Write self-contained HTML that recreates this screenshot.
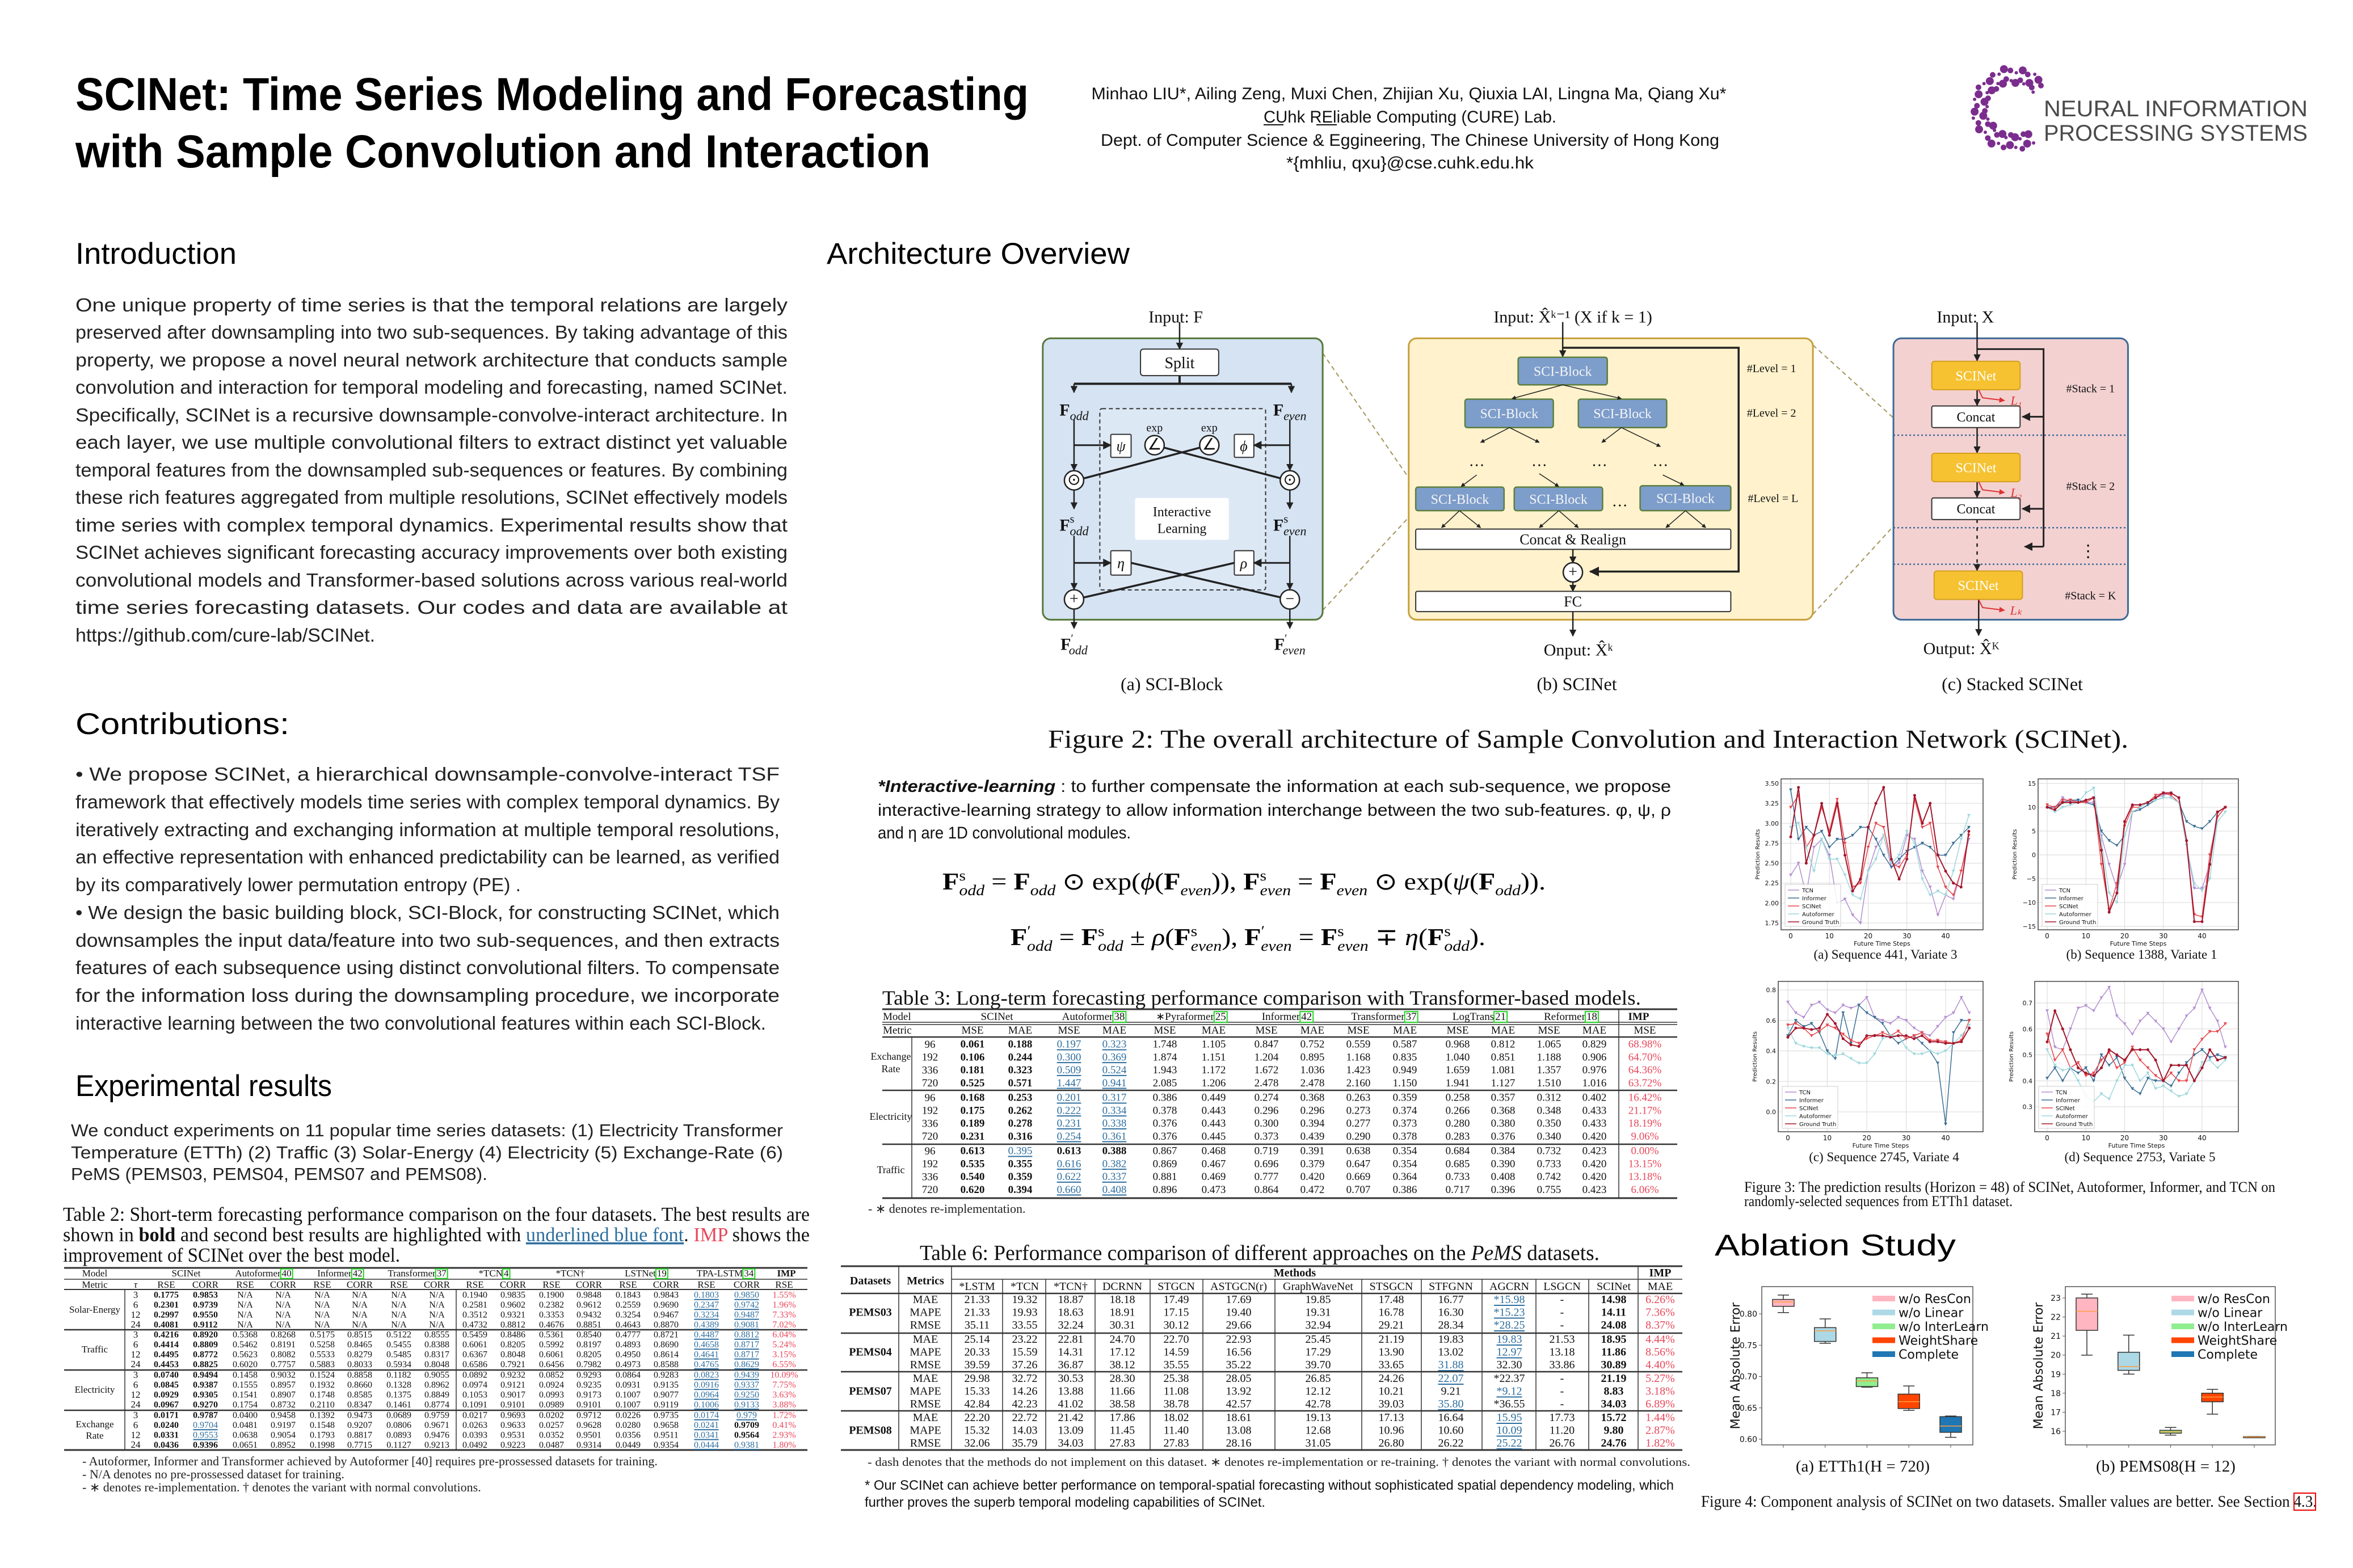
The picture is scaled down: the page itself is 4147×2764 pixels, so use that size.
<!DOCTYPE html>
<html><head><meta charset="utf-8"><title>SCINet Poster</title>
<style>
html,body{margin:0;padding:0;background:#fff}
svg{display:block}
.sans{font-family:"Liberation Sans",sans-serif}
.serif{font-family:"Liberation Serif",serif}
</style></head>
<body>
<svg id="page" xmlns="http://www.w3.org/2000/svg" width="4147" height="2764" viewBox="0 0 4147 2764">
<defs>
<marker id="arr" viewBox="0 0 10 10" refX="9" refY="5" markerWidth="5" markerHeight="5" orient="auto"><path d="M0,0 L10,5 L0,10 z" fill="#222"/></marker>
<marker id="arrR" viewBox="0 0 10 10" refX="9" refY="5" markerWidth="5" markerHeight="5" orient="auto"><path d="M0,0 L10,5 L0,10 z" fill="#d33"/></marker>
</defs>
<rect width="4147" height="2764" fill="#fff"/>

<!-- Title -->
<g class="sans" font-weight="bold" fill="#000">
<text x="133" y="194" font-size="82" textLength="1680" lengthAdjust="spacingAndGlyphs">SCINet: Time Series Modeling and Forecasting</text>
<text x="133" y="295" font-size="82" textLength="1507" lengthAdjust="spacingAndGlyphs">with Sample Convolution and Interaction</text>
</g>

<!-- Authors -->
<g class="sans" font-size="30" fill="#111" text-anchor="middle">
<text x="2483" y="175" textLength="1119" lengthAdjust="spacingAndGlyphs">Minhao LIU*, Ailing Zeng, Muxi Chen, Zhijian Xu, Qiuxia LAI, Lingna Ma, Qiang Xu*</text>
<text x="2485" y="216" textLength="516" lengthAdjust="spacingAndGlyphs">CUhk REliable Computing (CURE) Lab.</text>
<text x="2485" y="257" textLength="1090" lengthAdjust="spacingAndGlyphs">Dept. of Computer Science &amp; Eggineering, The Chinese University of Hong Kong</text>
<text x="2485" y="297" textLength="436" lengthAdjust="spacingAndGlyphs">*{mhliu, qxu}@cse.cuhk.edu.hk</text>
</g>
<line x1="2227" y1="220" x2="2262" y2="220" stroke="#111" stroke-width="2"/>
<line x1="2320" y1="220" x2="2356" y2="220" stroke="#111" stroke-width="2"/>

<!-- Logo -->
<g id="logo">
<text x="3602" y="205" class="sans" font-size="40" fill="#4a4a4a" textLength="465" lengthAdjust="spacingAndGlyphs">NEURAL INFORMATION</text>
<text x="3602" y="248" class="sans" font-size="40" fill="#4a4a4a" textLength="465" lengthAdjust="spacingAndGlyphs">PROCESSING SYSTEMS</text>
</g>

<!-- Section headings -->
<g class="sans" font-size="53" fill="#000">
<text x="133" y="465" textLength="284" lengthAdjust="spacingAndGlyphs">Introduction</text>
<text x="133" y="1294" textLength="377" lengthAdjust="spacingAndGlyphs">Contributions:</text>
<text x="133" y="1932" textLength="452" lengthAdjust="spacingAndGlyphs">Experimental results</text>
<text x="1457" y="465" textLength="534" lengthAdjust="spacingAndGlyphs">Architecture Overview</text>
<text x="3022" y="2213" textLength="425" lengthAdjust="spacingAndGlyphs">Ablation Study</text>
</g>

<!-- Introduction paragraph -->
<g class="sans" font-size="33" fill="#222">
<text x="133" y="549" textLength="1255" lengthAdjust="spacingAndGlyphs">One unique property of time series is that the temporal relations are largely</text>
<text x="133" y="597" textLength="1255" lengthAdjust="spacingAndGlyphs">preserved after downsampling into two sub-sequences. By taking advantage of this</text>
<text x="133" y="646" textLength="1255" lengthAdjust="spacingAndGlyphs">property, we propose a novel neural network architecture that conducts sample</text>
<text x="133" y="694" textLength="1255" lengthAdjust="spacingAndGlyphs">convolution and interaction for temporal modeling and forecasting, named SCINet.</text>
<text x="133" y="743" textLength="1255" lengthAdjust="spacingAndGlyphs">Specifically, SCINet is a recursive downsample-convolve-interact architecture. In</text>
<text x="133" y="791" textLength="1255" lengthAdjust="spacingAndGlyphs">each layer, we use multiple convolutional filters to extract distinct yet valuable</text>
<text x="133" y="840" textLength="1255" lengthAdjust="spacingAndGlyphs">temporal features from the downsampled sub-sequences or features. By combining</text>
<text x="133" y="888" textLength="1255" lengthAdjust="spacingAndGlyphs">these rich features aggregated from multiple resolutions, SCINet effectively models</text>
<text x="133" y="937" textLength="1255" lengthAdjust="spacingAndGlyphs">time series with complex temporal dynamics. Experimental results show that</text>
<text x="133" y="985" textLength="1255" lengthAdjust="spacingAndGlyphs">SCINet achieves significant forecasting accuracy improvements over both existing</text>
<text x="133" y="1034" textLength="1255" lengthAdjust="spacingAndGlyphs">convolutional models and Transformer-based solutions across various real-world</text>
<text x="133" y="1082" textLength="1255" lengthAdjust="spacingAndGlyphs">time series forecasting datasets. Our codes and data are available at</text>
<text x="133" y="1131" textLength="528" lengthAdjust="spacingAndGlyphs">https://github.com/cure-lab/SCINet.</text>
</g>

<!-- Contributions -->
<g class="sans" font-size="33" fill="#222">
<text x="133" y="1376" textLength="1241" lengthAdjust="spacingAndGlyphs">• We propose SCINet, a hierarchical downsample-convolve-interact TSF</text>
<text x="133" y="1425" textLength="1241" lengthAdjust="spacingAndGlyphs">framework that effectively models time series with complex temporal dynamics. By</text>
<text x="133" y="1474" textLength="1241" lengthAdjust="spacingAndGlyphs">iteratively extracting and exchanging information at multiple temporal resolutions,</text>
<text x="133" y="1522" textLength="1241" lengthAdjust="spacingAndGlyphs">an effective representation with enhanced predictability can be learned, as verified</text>
<text x="133" y="1571" textLength="785" lengthAdjust="spacingAndGlyphs">by its comparatively lower permutation entropy (PE) .</text>
<text x="133" y="1620" textLength="1241" lengthAdjust="spacingAndGlyphs">• We design the basic building block, SCI-Block, for constructing SCINet, which</text>
<text x="133" y="1669" textLength="1241" lengthAdjust="spacingAndGlyphs">downsamples the input data/feature into two sub-sequences, and then extracts</text>
<text x="133" y="1717" textLength="1241" lengthAdjust="spacingAndGlyphs">features of each subsequence using distinct convolutional filters. To compensate</text>
<text x="133" y="1766" textLength="1241" lengthAdjust="spacingAndGlyphs">for the information loss during the downsampling procedure, we incorporate</text>
<text x="133" y="1815" textLength="1217" lengthAdjust="spacingAndGlyphs">interactive learning between the two convolutional features within each SCI-Block.</text>
</g>

<!-- Experimental results text -->
<g class="sans" font-size="31" fill="#222">
<text x="125" y="2003" textLength="1255" lengthAdjust="spacingAndGlyphs">We conduct experiments on 11 popular time series datasets: (1) Electricity Transformer</text>
<text x="125" y="2042" textLength="1255" lengthAdjust="spacingAndGlyphs">Temperature  (ETTh) (2) Traffic (3) Solar-Energy (4) Electricity (5) Exchange-Rate (6)</text>
<text x="125" y="2080" textLength="734" lengthAdjust="spacingAndGlyphs">PeMS (PEMS03, PEMS04, PEMS07 and PEMS08).</text>
</g>

<!-- Table 2 caption -->
<g class="serif" font-size="35" fill="#111">
<text x="111" y="2152" textLength="1316" lengthAdjust="spacingAndGlyphs">Table 2: Short-term forecasting performance comparison on the four datasets. The best results are</text>
<text x="111" y="2188" textLength="1316" lengthAdjust="spacingAndGlyphs">shown in <tspan font-weight="bold">bold</tspan> and second best results are highlighted with <tspan fill="#2e6e9e" text-decoration="underline">underlined blue font</tspan>. <tspan fill="#e8475a">IMP</tspan> shows the</text>
<text x="111" y="2224" textLength="594" lengthAdjust="spacingAndGlyphs">improvement of SCINet over the best model.</text>
</g>
<g id="table2" class="serif"></g>
<g class="serif" font-size="22" fill="#222">
<text x="145" y="2583">- Autoformer, Informer and Transformer achieved by Autoformer [40] requires pre-prossessed datasets for training.</text>
<text x="145" y="2606">- N/A denotes no pre-prossessed dataset for training.</text>
<text x="145" y="2629">- ∗ denotes re-implementation.        † denotes the variant with normal convolutions.</text>
</g>

<!-- Architecture diagram -->
<g id="arch"></g>
<text x="1847" y="1318" class="serif" font-size="46" fill="#111" textLength="1904" lengthAdjust="spacingAndGlyphs">Figure 2: The overall architecture of Sample Convolution and Interaction Network (SCINet).</text>

<!-- Interactive learning text -->
<g class="sans" font-size="30" fill="#111">
<text x="1547" y="1396" textLength="1398" lengthAdjust="spacingAndGlyphs"><tspan font-weight="bold" font-style="italic">*Interactive-learning</tspan> :  to further compensate the information at each sub-sequence, we propose</text>
<text x="1547" y="1438" textLength="1398" lengthAdjust="spacingAndGlyphs">interactive-learning strategy to allow information interchange between the two sub-features. φ, ψ, ρ</text>
<text x="1547" y="1478" textLength="446" lengthAdjust="spacingAndGlyphs">and η are 1D convolutional modules.</text>
</g>

<!-- Equations -->
<g class="serif" font-size="42" fill="#000">
<text x="1661" y="1568" textLength="1063" lengthAdjust="spacingAndGlyphs"><tspan font-weight="bold">F</tspan><tspan font-size="26" dy="-16">s</tspan><tspan font-size="26" font-style="italic" dy="26" dx="-10">odd</tspan><tspan dy="-10"> = </tspan><tspan font-weight="bold">F</tspan><tspan font-size="26" font-style="italic" dy="10">odd</tspan><tspan dy="-10"> ⊙ exp(</tspan><tspan font-style="italic">ϕ</tspan>(<tspan font-weight="bold">F</tspan><tspan font-size="26" font-style="italic" dy="10">even</tspan><tspan dy="-10">)),    </tspan><tspan font-weight="bold">F</tspan><tspan font-size="26" dy="-16">s</tspan><tspan font-size="26" font-style="italic" dy="26" dx="-10">even</tspan><tspan dy="-10"> = </tspan><tspan font-weight="bold">F</tspan><tspan font-size="26" font-style="italic" dy="10">even</tspan><tspan dy="-10"> ⊙ exp(</tspan><tspan font-style="italic">ψ</tspan>(<tspan font-weight="bold">F</tspan><tspan font-size="26" font-style="italic" dy="10">odd</tspan><tspan dy="-10">)).</tspan></text>
<text x="1781" y="1666" textLength="837" lengthAdjust="spacingAndGlyphs"><tspan font-weight="bold">F</tspan><tspan font-size="26" dy="-16">′</tspan><tspan font-size="26" font-style="italic" dy="26" dx="-6">odd</tspan><tspan dy="-10"> = </tspan><tspan font-weight="bold">F</tspan><tspan font-size="26" dy="-16">s</tspan><tspan font-size="26" font-style="italic" dy="26" dx="-10">odd</tspan><tspan dy="-10"> ± </tspan><tspan font-style="italic">ρ</tspan>(<tspan font-weight="bold">F</tspan><tspan font-size="26" dy="-16">s</tspan><tspan font-size="26" font-style="italic" dy="26" dx="-10">even</tspan><tspan dy="-10">),    </tspan><tspan font-weight="bold">F</tspan><tspan font-size="26" dy="-16">′</tspan><tspan font-size="26" font-style="italic" dy="26" dx="-6">even</tspan><tspan dy="-10"> = </tspan><tspan font-weight="bold">F</tspan><tspan font-size="26" dy="-16">s</tspan><tspan font-size="26" font-style="italic" dy="26" dx="-10">even</tspan><tspan dy="-10"> ∓ </tspan><tspan font-style="italic">η</tspan>(<tspan font-weight="bold">F</tspan><tspan font-size="26" dy="-16">s</tspan><tspan font-size="26" font-style="italic" dy="26" dx="-10">odd</tspan><tspan dy="-10">).</tspan></text>
</g>

<!-- Table 3 -->
<text x="1555" y="1771" class="serif" font-size="36" fill="#111" textLength="1337" lengthAdjust="spacingAndGlyphs">Table 3: Long-term forecasting performance comparison with Transformer-based models.</text>
<g id="table3" class="serif"></g>
<text x="1530" y="2138" class="serif" font-size="22" fill="#222">- ∗ denotes re-implementation.</text>

<!-- Table 6 -->
<text x="1621" y="2221" class="serif" font-size="38" fill="#111" textLength="1198" lengthAdjust="spacingAndGlyphs">Table 6: Performance comparison of different approaches on the <tspan font-style="italic">PeMS</tspan> datasets.</text>
<g id="table6" class="serif"></g>
<text x="1529" y="2584" class="serif" font-size="21" fill="#222" textLength="1450" lengthAdjust="spacingAndGlyphs">- dash denotes that the methods do not implement on this dataset.    ∗ denotes re-implementation or re-training.    † denotes the variant with normal convolutions.</text>
<text x="1524" y="2626" class="sans" font-size="24" fill="#111" textLength="1426" lengthAdjust="spacingAndGlyphs">* Our SCINet can achieve better performance on temporal-spatial forecasting without sophisticated spatial dependency modeling, which</text>
<text x="1524" y="2656" class="sans" font-size="24" fill="#111" textLength="706" lengthAdjust="spacingAndGlyphs">further proves the superb temporal modeling capabilities of SCINet.</text>

<!-- Figure 3 -->
<g id="fig3"></g>
<g class="serif" font-size="26" fill="#111">
<text x="3074" y="2101" textLength="936" lengthAdjust="spacingAndGlyphs">Figure 3: The prediction results (Horizon = 48) of SCINet, Autoformer, Informer, and TCN on</text>
<text x="3074" y="2126" textLength="473" lengthAdjust="spacingAndGlyphs">randomly-selected sequences from ETTh1 dataset.</text>
</g>

<!-- Figure 4 -->
<g id="fig4"></g>
<text x="2998" y="2656" class="serif" font-size="28" fill="#111" textLength="1085" lengthAdjust="spacingAndGlyphs">Figure 4: Component analysis of SCINet on two datasets. Smaller values are better. See Section 4.3.</text>
<rect x="4043" y="2632" width="38" height="30" fill="none" stroke="#e00" stroke-width="2"/>
</svg>

<script>
const NS='http://www.w3.org/2000/svg';
function mk(tag,parent,name,attrs,inter){
  const e=document.createElementNS(NS,tag);
  
  
  if(attrs){for(const k in attrs){e.setAttribute(k,attrs[k]);}}
  parent.appendChild(e);
  return e;
}
function tx(parent,name,x,y,str,size,o){
  o=o||{};
  const t=mk('text',parent,name,{x:x,y:y,'font-size':size,fill:o.fill||'#111','text-anchor':o.anchor||'middle'});
  if(o.weight)t.setAttribute('font-weight',o.weight);
  if(o.style)t.setAttribute('font-style',o.style);
  if(o.family)t.setAttribute('font-family',o.family);
  if(o.len){t.setAttribute('textLength',o.len);t.setAttribute('lengthAdjust','spacingAndGlyphs');}
  if(o.rotate)t.setAttribute('transform','rotate('+o.rotate+' '+x+' '+y+')');
  t.textContent=str;
  return t;
}

/* ---------------- Logo dots ---------------- */
(function(){
  const g=document.getElementById('logo');
  const cx=3548, cy=192;
  for(let i=0;i<30;i++){
    const a=(40+i*9)*Math.PI/180;
    for(let j=0;j<2;j++){
      const r=46+j*18+((i*7)%5)*2;
      const c=mk('circle',g,'logo-dot',{cx:cx+r*Math.cos(a),cy:cy-r*Math.sin(a),r:3+((i+j)%3)*2,fill:'#7b2d8e'});
    }
  }
})();

/* ---------------- Architecture diagram ---------------- */
(function(){
  const g=document.getElementById('arch');
  const DX=z=>1700+z*1.378, DY=z=>520+z*0.477;
  function R(name,x1,y1,x2,y2,fill,stroke,sw,rx,dash){
    const r=mk('rect',g,name,{x:DX(x1),y:DY(y1),width:DX(x2)-DX(x1),height:DY(y2)-DY(y1),fill:fill,stroke:stroke,'stroke-width':sw||2,rx:rx||4});
    if(dash)r.setAttribute('stroke-dasharray',dash);
    return r;
  }
  function L(name,pts,o){
    o=o||{};
    const p=mk('polyline',g,name,{points:pts.map(q=>DX(q[0])+','+DY(q[1])).join(' '),fill:'none',stroke:o.stroke||'#222','stroke-width':o.sw||2.5});
    if(o.arrow)p.setAttribute('marker-end',o.red?'url(#arrR)':'url(#arr)');
    if(o.dash)p.setAttribute('stroke-dasharray',o.dash);
    return p;
  }
  function T(name,zx,zy,str,size,o){o=o||{};o.family=o.family||'"Liberation Serif",serif';return tx(g,name,DX(zx),DY(zy)+size*0.35,str,size,o);}
  function C(name,zx,zy,sym){
    mk('circle',g,name,{cx:DX(zx),cy:DY(zy),r:17,fill:'#fff',stroke:'#222','stroke-width':2.5});
    T(name+'-symbol',zx,zy-4,sym,28);
  }
  function FL(name,zx,zy,main,sub,sup){
    const t=mk('text',g,name,{x:DX(zx),y:DY(zy)+10,'font-size':30,'text-anchor':'middle','font-family':'"Liberation Serif",serif',fill:'#111'});
    const a=mk('tspan',t,name+'-main',{'font-weight':'bold'});a.textContent=main;
    if(sup){const s=mk('tspan',t,name+'-sup',{'font-size':20,dy:-14});s.textContent=sup;}
    const b=mk('tspan',t,name+'-sub',{'font-size':22,'font-style':'italic',dy:sup?22:8,dx:sup?-8:0});b.textContent=sub;
  }
  L('zoom-connector',[[458,215],[575,705]],{stroke:'#a3955a',sw:2,dash:'8,6'});
  L('zoom-connector',[[458,1165],[575,800]],{stroke:'#a3955a',sw:2,dash:'8,6'});
  L('zoom-connector',[[1085,185],[1240,590]],{stroke:'#a3955a',sw:2,dash:'8,6'});
  L('zoom-connector',[[1085,1180],[1240,690]],{stroke:'#a3955a',sw:2,dash:'8,6'});

  R('sci-block-panel',100,160,458,1200,'#d5e3f2','#56783a',3,14);
  R('interactive-region',173,420,385,1090,'#dde8f5','#333',2,0,'7,5');
  T('input-f-label',270,80,'Input: F',30);
  L('input-arrow',[[275,100],[275,200]],{arrow:1});
  R('split-box',225,200,325,298,'#fff','#333',2,5);
  T('split-label',275,250,'Split',28);
  L('split-bar',[[275,298],[275,328]],{sw:4});
  L('split-bar',[[140,328],[418,328]],{sw:4});
  L('split-arrow',[[140,328],[140,360]],{arrow:1});
  L('split-arrow',[[418,328],[418,360]],{arrow:1});
  FL('f-odd-label',140,425,'F','odd');
  FL('f-even-label',416,425,'F','even');
  L('odd-path',[[140,460],[140,648]],{arrow:1});
  L('even-path',[[416,460],[416,648]],{arrow:1});
  R('psi-box',187,515,213,600,'#fff','#333',2,2);
  R('phi-box',345,515,370,600,'#fff','#333',2,2);
  T('psi-label',200,557,'ψ',26,{style:'italic'});
  T('phi-label',357,557,'ϕ',26,{style:'italic'});
  L('psi-in',[[140,555],[187,555]],{arrow:1,sw:3});
  L('phi-in',[[416,555],[370,555]],{arrow:1,sw:3});
  L('cross-top',[[243,555],[405,678]],{sw:3.5});
  L('cross-top',[[313,555],[152,678]],{sw:3.5});
  C('exp-circle-left',243,555,'∠');
  C('exp-circle-right',313,555,'∠');
  T('exp-label',243,490,'exp',20);
  T('exp-label',313,490,'exp',20);
  C('odot-left',140,685,'⊙');
  C('odot-right',416,685,'⊙');
  L('odd-path',[[140,722],[140,790]],{arrow:1});
  L('even-path',[[416,722],[416,790]],{arrow:1});
  R('interactive-learning-box',218,750,338,905,'#fff','none',0,0);
  T('interactive-label',278,800,'Interactive',24);
  T('learning-label',278,862,'Learning',24);
  FL('fs-odd-label',140,850,'F','odd','s');
  FL('fs-even-label',416,850,'F','even','s');
  L('odd-path',[[140,890],[140,1088]],{arrow:1});
  L('even-path',[[416,890],[416,1088]],{arrow:1});
  R('eta-box',187,945,213,1035,'#fff','#333',2,2);
  R('rho-box',345,945,370,1035,'#fff','#333',2,2);
  T('eta-label',200,990,'η',26,{style:'italic'});
  T('rho-label',357,990,'ρ',26,{style:'italic'});
  L('eta-in',[[140,990],[187,990]],{arrow:1,sw:3});
  L('rho-in',[[416,990],[370,990]],{arrow:1,sw:3});
  L('cross-bottom',[[213,990],[405,1118]],{sw:3.5});
  L('cross-bottom',[[345,990],[152,1118]],{sw:3.5});
  C('oplus-left',140,1125,'+');
  C('ominus-right',416,1125,'−');
  L('odd-out',[[140,1162],[140,1232]],{arrow:1});
  L('even-out',[[416,1162],[416,1232]],{arrow:1});
  FL('f-odd-prime-label',140,1290,'F','odd','′');
  FL('f-even-prime-label',416,1290,'F','even','′');
  T('caption-a',265,1437,'(a) SCI-Block',32);

  R('scinet-panel',568,160,1085,1200,'#fff2cc','#c6a03c',3,14);
  T('input-x-label',778,80,'Input: X̂ᵏ⁻¹ (X if k = 1)',30);
  L('input-arrow',[[765,100],[765,228]],{arrow:1});
  L('residual-path',[[765,195],[990,195],[990,1022],[800,1022]],{arrow:1,sw:3.5});
  const blocks=[[708,230,822,332],[640,385,753,490],[785,385,898,490],[577,710,690,797],[703,710,816,797],[864,705,980,797]];
  blocks.forEach(b=>{R('sci-block-node',b[0],b[1],b[2],b[3],'#7d9dcb','#5d7f3e',2.5,4);T('sci-block-node-label',(b[0]+b[2])/2,(b[1]+b[3])/2,'SCI-Block',24,{fill:'#f5f5f5'});});
  [[[765,332],[700,383]],[[765,332],[840,383]],[[697,490],[660,545]],[[697,490],[735,545]],[[840,490],[815,545]],[[840,490],[890,560]],[[655,665],[635,708]],[[735,660],[760,708]],[[893,665],[920,703]],[[633,797],[610,860]],[[633,797],[660,860]],[[760,797],[735,860]],[[760,797],[785,860]],[[922,797],[897,860]],[[922,797],[948,860]]].forEach(s=>L('tree-edge',s,{arrow:1,sw:1.5}));
  [655,735,812,890].forEach(x=>T('ellipsis',x,612,'…',28));
  T('ellipsis',838,760,'…',28);
  R('concat-realign-box',577,865,980,940,'#fff','#333',2,3);
  T('concat-realign-label',778,902,'Concat & Realign',26);
  L('to-sum',[[778,940],[778,990]],{arrow:1});
  C('sum-circle',778,1025,'+');
  L('to-fc',[[778,1060],[778,1095]],{arrow:1});
  R('fc-box',577,1095,980,1170,'#fff','#333',2,3);
  T('fc-label',778,1132,'FC',26);
  L('output-arrow',[[778,1170],[778,1260]],{arrow:1});
  T('output-label',785,1310,'Onput: X̂ᵏ',30);
  T('level-1-label',1032,270,'#Level = 1',20);
  T('level-2-label',1032,435,'#Level = 2',20);
  T('level-l-label',1034,750,'#Level = L',20);
  T('caption-b',783,1437,'(b) SCINet',32);

  R('stacked-panel',1188,160,1488,1200,'#f4d1d1','#3c6a98',3,14);
  T('input-x-label-c',1280,80,'Input: X',30);
  L('stack-main',[[1295,100],[1295,243]],{arrow:1});
  L('stack-skip',[[1295,200],[1380,200],[1380,930]],{sw:3});
  L('skip-arrow',[[1380,450],[1353,450]],{arrow:1,sw:3});
  L('skip-arrow',[[1380,790],[1353,790]],{arrow:1,sw:3});
  L('skip-arrow',[[1380,930],[1356,930]],{arrow:1,sw:3});
  [518,860,995].forEach(y=>L('stack-divider',[[1188,y],[1488,y]],{stroke:'#3c6a98',sw:2.5,dash:'3,4'}));
  L('stack-main',[[1295,350],[1295,408]],{arrow:1});
  L('stack-main',[[1295,490],[1295,583]],{arrow:1});
  L('stack-main',[[1295,690],[1295,748]],{arrow:1});
  L('stack-main',[[1295,830],[1295,1018]],{arrow:1,dash:'6,8'});
  L('stack-main',[[1297,1125],[1297,1258]],{arrow:1});
  [[1237,245,1350,350],[1237,585,1350,690],[1240,1020,1353,1125]].forEach(b=>{R('scinet-node',b[0],b[1],b[2],b[3],'#f6c232','#d4a020',2,5);T('scinet-node-label',(b[0]+b[2])/2,(b[1]+b[3])/2,'SCINet',24,{fill:'#fff'});});
  [[1237,410,1350,490],[1237,750,1350,830]].forEach(b=>{R('concat-node',b[0],b[1],b[2],b[3],'#fff','#333',2,3);T('concat-node-label',(b[0]+b[2])/2,(b[1]+b[3])/2,'Concat',24);});
  [[350,'L₁'],[690,'L₂'],[1125,'Lₖ']].forEach(s=>{L('loss-arrow',[[1297,s[0]],[1302,s[0]+30],[1330,s[0]+40]],{arrow:1,red:1,stroke:'#d33',sw:2});T('loss-label',1345,s[0]+40,s[1],22,{fill:'#d33',style:'italic'});});
  T('stack-dots',1437,945,'⋮',30);
  T('stack-1-label',1440,345,'#Stack = 1',20);
  T('stack-2-label',1440,705,'#Stack = 2',20);
  T('stack-k-label',1440,1110,'#Stack = K',20);
  T('output-label-c',1275,1305,'Output: X̂ᴷ',30);
  T('caption-c',1340,1437,'(c) Stacked SCINet',32);
})();

/* ---------------- Tables ---------------- */
function drawTable(g,rows,colX,rowY,size,impColor){
  rows.forEach((r,i)=>{
    r.forEach((v,j)=>{
      let s=v, bold=false, blue=false;
      while(s[0]==='!'||s[0]==='~'){ if(s[0]==='!')bold=true; else blue=true; s=s.slice(1);}
      const isImp=(j===r.length-1);
      const t=tx(g,'table-cell',colX[j],rowY[i]+size*0.35,s,size,{fill:isImp?impColor:(blue?'#2e6e9e':'#111'),weight:bold?'bold':null});
      if(blue){
        const w=s.length*size*0.45;
        const u=mk('line',g,'cell-underline',{x1:colX[j]-w/2,x2:colX[j]+w/2,y1:rowY[i]+size*0.55,y2:rowY[i]+size*0.55,stroke:'#2e6e9e','stroke-width':2});
      }
    });
  });
}
function hline(g,x1,x2,y,w){mk('line',g,'table-rule',{x1:x1,x2:x2,y1:y,y2:y,stroke:'#333','stroke-width':w});}
function vline(g,x,y1,y2,w){mk('line',g,'table-rule',{x1:x,x2:x,y1:y1,y2:y2,stroke:'#333','stroke-width':w||1.5});}
function refHeader(g,cx,y,name,ref,size){
  const t=tx(g,'column-header',cx,y,name+(ref?' ':''),size,{});
  if(ref){
    const w=t.getComputedTextLength();
    const rw=ref.length*size*0.5+4;
    t.setAttribute('x',cx-rw/2);
    const rx=cx-rw/2+w/2;
    const r=mk('rect',g,'citation-box',{x:rx,y:y-size*0.78,width:rw,height:size*1.0,fill:'none',stroke:'#1fd51f','stroke-width':2});
    tx(g,'citation-number',rx+rw/2,y,ref,size,{});
  }
}

/* Table 2 */
const t2Models=[['SCINet',''],['Autoformer','40'],['Informer','42'],['Transformer','37'],['*TCN','4'],['*TCN†',''],['LSTNet','19'],['TPA-LSTM','34']];
const t2Datasets=['Solar-Energy','Traffic','Electricity','Exchange Rate'];
const t2Horizons=['3','6','12','24'];
const t2Rows=[
['!0.1775','!0.9853','N/A','N/A','N/A','N/A','N/A','N/A','0.1940','0.9835','0.1900','0.9848','0.1843','0.9843','~0.1803','~0.9850','1.55%'],
['!0.2301','!0.9739','N/A','N/A','N/A','N/A','N/A','N/A','0.2581','0.9602','0.2382','0.9612','0.2559','0.9690','~0.2347','~0.9742','1.96%'],
['!0.2997','!0.9550','N/A','N/A','N/A','N/A','N/A','N/A','0.3512','0.9321','0.3353','0.9432','0.3254','0.9467','~0.3234','~0.9487','7.33%'],
['!0.4081','!0.9112','N/A','N/A','N/A','N/A','N/A','N/A','0.4732','0.8812','0.4676','0.8851','0.4643','0.8870','~0.4389','~0.9081','7.02%'],
['!0.4216','!0.8920','0.5368','0.8268','0.5175','0.8515','0.5122','0.8555','0.5459','0.8486','0.5361','0.8540','0.4777','0.8721','~0.4487','~0.8812','6.04%'],
['!0.4414','!0.8809','0.5462','0.8191','0.5258','0.8465','0.5455','0.8388','0.6061','0.8205','0.5992','0.8197','0.4893','0.8690','~0.4658','~0.8717','5.24%'],
['!0.4495','!0.8772','0.5623','0.8082','0.5533','0.8279','0.5485','0.8317','0.6367','0.8048','0.6061','0.8205','0.4950','0.8614','~0.4641','~0.8717','3.15%'],
['!0.4453','!0.8825','0.6020','0.7757','0.5883','0.8033','0.5934','0.8048','0.6586','0.7921','0.6456','0.7982','0.4973','0.8588','~0.4765','~0.8629','6.55%'],
['!0.0740','!0.9494','0.1458','0.9032','0.1524','0.8858','0.1182','0.9055','0.0892','0.9232','0.0852','0.9293','0.0864','0.9283','~0.0823','~0.9439','10.09%'],
['!0.0845','!0.9387','0.1555','0.8957','0.1932','0.8660','0.1328','0.8962','0.0974','0.9121','0.0924','0.9235','0.0931','0.9135','~0.0916','~0.9337','7.75%'],
['!0.0929','!0.9305','0.1541','0.8907','0.1748','0.8585','0.1375','0.8849','0.1053','0.9017','0.0993','0.9173','0.1007','0.9077','~0.0964','~0.9250','3.63%'],
['!0.0967','!0.9270','0.1754','0.8732','0.2110','0.8347','0.1461','0.8774','0.1091','0.9101','0.0989','0.9101','0.1007','0.9119','~0.1006','~0.9133','3.88%'],
['!0.0171','!0.9787','0.0400','0.9458','0.1392','0.9473','0.0689','0.9759','0.0217','0.9693','0.0202','0.9712','0.0226','0.9735','~0.0174','~0.979','1.72%'],
['!0.0240','~0.9704','0.0481','0.9197','0.1548','0.9207','0.0806','0.9671','0.0263','0.9633','0.0257','0.9628','0.0280','0.9658','~0.0241','!0.9709','0.41%'],
['!0.0331','~0.9553','0.0638','0.9054','0.1793','0.8817','0.0893','0.9476','0.0393','0.9531','0.0352','0.9501','0.0356','0.9511','~0.0341','!0.9564','2.93%'],
['!0.0436','!0.9396','0.0651','0.8952','0.1998','0.7715','0.1127','0.9213','0.0492','0.9223','0.0487','0.9314','0.0449','0.9354','~0.0444','~0.9381','1.80%']];
(function(){
  const g=document.getElementById('table2');
  const colX=[293,362,432,499,568,634,703,770,837,904,972,1038,1107,1174,1245,1316,1382];
  const rowY=[];[2282,2352,2423,2494].forEach(s=>{for(let k=0;k<4;k++)rowY.push(s+k*17.4);});
  hline(g,113,1423,2235,3);hline(g,113,1423,2255,1.5);hline(g,113,1423,2273,2);
  hline(g,113,1423,2344,2.5);hline(g,113,1423,2415,2.5);hline(g,113,1423,2486,2.5);hline(g,113,1423,2556,3);
  vline(g,220,2273,2556);vline(g,804,2273,2556);
  tx(g,'header-model',167,2250,'Model',17,{});
  const hx=[328,465,600,736,871,1005,1139,1279];
  t2Models.forEach((m,i)=>refHeader(g,hx[i],2250,m[0],m[1],17));
  tx(g,'header-imp',1386,2250,'IMP',17,{weight:'bold'});
  tx(g,'header-metric',167,2270,'Metric',17,{});
  tx(g,'header-tau',239,2270,'τ',17,{style:'italic'});
  colX.forEach((x,j)=>tx(g,'metric-label',x,2270,j===16?'RSE':(j%2?'CORR':'RSE'),17,{}));
  const gm=[2308,2378,2449,2520];
  t2Datasets.forEach((d,i)=>{
    if(d==='Exchange Rate'){tx(g,'dataset-label',167,gm[i]-4,'Exchange',17,{});tx(g,'dataset-label',167,gm[i]+16,'Rate',17,{});}
    else tx(g,'dataset-label',167,gm[i]+6,d,17,{});
  });
  rowY.forEach((y,i)=>tx(g,'horizon-label',239,y+6,t2Horizons[i%4],17,{}));
  drawTable(g,t2Rows,colX,rowY,16,'#e8475a');
})();

/* Table 3 */
const t3Models=[['SCINet',''],['Autoformer','38'],['∗Pyraformer','25'],['Informer','42'],['Transformer','37'],['LogTrans','21'],['Reformer','18']];
const t3Datasets=['Exchange Rate','Electricity','Traffic'];
const t3Horizons=['96','192','336','720'];
const t3Rows=[
['!0.061','!0.188','~0.197','~0.323','1.748','1.105','0.847','0.752','0.559','0.587','0.968','0.812','1.065','0.829','68.98%'],
['!0.106','!0.244','~0.300','~0.369','1.874','1.151','1.204','0.895','1.168','0.835','1.040','0.851','1.188','0.906','64.70%'],
['!0.181','!0.323','~0.509','~0.524','1.943','1.172','1.672','1.036','1.423','0.949','1.659','1.081','1.357','0.976','64.36%'],
['!0.525','!0.571','~1.447','~0.941','2.085','1.206','2.478','2.478','2.160','1.150','1.941','1.127','1.510','1.016','63.72%'],
['!0.168','!0.253','~0.201','~0.317','0.386','0.449','0.274','0.368','0.263','0.359','0.258','0.357','0.312','0.402','16.42%'],
['!0.175','!0.262','~0.222','~0.334','0.378','0.443','0.296','0.296','0.273','0.374','0.266','0.368','0.348','0.433','21.17%'],
['!0.189','!0.278','~0.231','~0.338','0.376','0.443','0.300','0.394','0.277','0.373','0.280','0.380','0.350','0.433','18.19%'],
['!0.231','!0.316','~0.254','~0.361','0.376','0.445','0.373','0.439','0.290','0.378','0.283','0.376','0.340','0.420','9.06%'],
['!0.613','~0.395','!0.613','!0.388','0.867','0.468','0.719','0.391','0.638','0.354','0.684','0.384','0.732','0.423','0.00%'],
['!0.535','!0.355','~0.616','~0.382','0.869','0.467','0.696','0.379','0.647','0.354','0.685','0.390','0.733','0.420','13.15%'],
['!0.540','!0.359','~0.622','~0.337','0.881','0.469','0.777','0.420','0.669','0.364','0.733','0.408','0.742','0.420','13.18%'],
['!0.620','!0.394','~0.660','~0.408','0.896','0.473','0.864','0.472','0.707','0.386','0.717','0.396','0.755','0.423','6.06%']];
(function(){
  const g=document.getElementById('table3');
  const colX=[1714,1798,1884,1964,2053,2139,2232,2313,2394,2476,2569,2649,2730,2810,2899];
  const rowY=[];[1840,1934,2028].forEach(s=>{for(let k=0;k<4;k++)rowY.push(s+k*22.7);});
  hline(g,1555,2956,1779,3);hline(g,1555,2956,1802,1.5);hline(g,1555,2956,1806,1.5);hline(g,1555,2956,1828,2.5);
  hline(g,1555,2956,1922,2.5);hline(g,1555,2956,2017,2.5);hline(g,1555,2956,2112,3);
  vline(g,1607,1828,2112);vline(g,2853,1779,2112);
  tx(g,'header-model',1556,1798,'Model',19,{anchor:'start'});
  const hx=[1757,1928,2100,2269,2440,2608,2769];
  t3Models.forEach((m,i)=>refHeader(g,hx[i],1798,m[0],m[1],19));
  tx(g,'header-imp',2888,1798,'IMP',19,{weight:'bold'});
  tx(g,'header-metric',1556,1822,'Metric',19,{anchor:'start'});
  colX.forEach((x,j)=>tx(g,'metric-label',x,1822,j===14?'MSE':(j%2?'MAE':'MSE'),19,{}));
  const gm=[1874,1968,2062];
  t3Datasets.forEach((d,i)=>{
    if(d==='Exchange Rate'){tx(g,'dataset-label',1570,gm[i]-6,'Exchange',18,{});tx(g,'dataset-label',1570,gm[i]+16,'Rate',18,{});}
    else tx(g,'dataset-label',1570,gm[i]+6,d,18,{});
  });
  rowY.forEach((y,i)=>tx(g,'horizon-label',1639,y+7,t3Horizons[i%4],19,{}));
  drawTable(g,t3Rows,colX,rowY,19,'#e8475a');
})();

/* Table 6 */
const t6Methods=['*LSTM','*TCN','*TCN†','DCRNN','STGCN','ASTGCN(r)','GraphWaveNet','STSGCN','STFGNN','AGCRN','LSGCN','SCINet'];
const t6Datasets=['PEMS03','PEMS04','PEMS07','PEMS08'];
const t6Metrics=['MAE','MAPE','RMSE'];
const t6Rows=[
['21.33','19.32','18.87','18.18','17.49','17.69','19.85','17.48','16.77','~*15.98','-','!14.98','6.26%'],
['21.33','19.93','18.63','18.91','17.15','19.40','19.31','16.78','16.30','~*15.23','-','!14.11','7.36%'],
['35.11','33.55','32.24','30.31','30.12','29.66','32.94','29.21','28.34','~*28.25','-','!24.08','8.37%'],
['25.14','23.22','22.81','24.70','22.70','22.93','25.45','21.19','19.83','~19.83','21.53','!18.95','4.44%'],
['20.33','15.59','14.31','17.12','14.59','16.56','17.29','13.90','13.02','~12.97','13.18','!11.86','8.56%'],
['39.59','37.26','36.87','38.12','35.55','35.22','39.70','33.65','~31.88','32.30','33.86','!30.89','4.40%'],
['29.98','32.72','30.53','28.30','25.38','28.05','26.85','24.26','~22.07','*22.37','-','!21.19','5.27%'],
['15.33','14.26','13.88','11.66','11.08','13.92','12.12','10.21','9.21','~*9.12','-','!8.83','3.18%'],
['42.84','42.23','41.02','38.58','38.78','42.57','42.78','39.03','~35.80','*36.55','-','!34.03','6.89%'],
['22.20','22.72','21.42','17.86','18.02','18.61','19.13','17.13','16.64','~15.95','17.73','!15.72','1.44%'],
['15.32','14.03','13.09','11.45','11.40','13.08','12.68','10.96','10.60','~10.09','11.20','!9.80','2.87%'],
['32.06','35.79','34.03','27.83','27.83','28.16','31.05','26.80','26.22','~25.22','26.76','!24.76','1.82%']];
(function(){
  const g=document.getElementById('table6');
  const colX=[1722,1806,1887,1978,2073,2183,2323,2452,2557,2660,2753,2844,2926];
  const rowY=[];[2290,2360,2429,2498].forEach(s=>{for(let k=0;k<3;k++)rowY.push(s+k*22.5);});
  hline(g,1482,2965,2232,3);hline(g,1677,2965,2255,1.5);hline(g,1482,2965,2280,2.5);
  hline(g,1482,2965,2350,2.5);hline(g,1482,2965,2418,2.5);hline(g,1482,2965,2487,2.5);hline(g,1482,2965,2556,3);
  vline(g,1584,2232,2556);vline(g,1677,2232,2556);vline(g,2887,2232,2556);
  [1767,1843,1930,2027,2120,2247,2400,2505,2612,2707,2800].forEach(x=>vline(g,x,2255,2556));
  tx(g,'header-datasets',1534,2264,'Datasets',20,{weight:'bold'});
  tx(g,'header-metrics',1631,2264,'Metrics',20,{weight:'bold'});
  tx(g,'header-methods',2282,2250,'Methods',20,{weight:'bold'});
  tx(g,'header-imp',2926,2250,'IMP',20,{weight:'bold'});
  t6Methods.forEach((m,j)=>tx(g,'method-header',colX[j],2274,m,20,{}));
  tx(g,'imp-metric',2926,2274,'MAE',20,{});
  t6Datasets.forEach((d,i)=>tx(g,'dataset-label',1534,rowY[i*3+1]+7,d,20,{weight:'bold'}));
  rowY.forEach((y,i)=>tx(g,'metric-label',1631,y+7,t6Metrics[i%3],20,{}));
  drawTable(g,t6Rows,colX,rowY,20,'#e8475a');
})();

/* ---------------- Figure 3: prediction line charts ---------------- */
const fig3Steps=[0,2,4,6,8,10,12,14,16,18,20,22,24,26,28,30,32,34,36,38,40,42,44,46];
const fig3XTicks=[0,10,20,30,40];
const fig3Legend=['TCN','Informer','SCINet','Autoformer','Ground Truth'];
const seqA_yTicks=[1.75,2.00,2.25,2.50,2.75,3.00,3.25,3.50];
const seqA_tcn=[2.35,2.50,2.10,2.70,2.80,2.60,2.00,2.05,1.85,1.75,2.40,2.70,2.85,2.45,2.50,2.85,2.80,2.40,2.20,1.85,2.10,2.05,2.40,2.80];
const seqA_informer=[3.42,2.80,2.95,2.85,2.90,2.70,2.80,2.80,2.85,2.95,2.95,2.80,2.60,2.45,2.55,2.65,2.70,2.75,2.70,2.60,2.60,2.75,2.85,2.95];
const seqA_scinet=[3.20,3.35,2.70,2.85,3.20,2.90,3.30,2.75,2.20,2.25,2.70,3.00,2.95,2.50,2.45,2.60,3.30,2.95,3.00,2.45,2.20,2.10,2.40,2.85];
const seqA_autoformer=[2.95,3.00,2.70,2.40,2.80,2.55,2.55,2.35,2.10,2.05,2.40,2.55,2.85,2.50,2.60,2.90,2.75,2.30,2.10,2.15,2.10,2.40,2.80,3.10];
const seqA_truth=[2.83,3.45,2.50,2.85,3.25,2.85,3.25,2.60,2.15,2.30,2.95,3.25,3.45,2.55,2.30,2.55,3.35,3.00,3.25,2.60,2.40,2.25,2.20,2.90];
const seqB_yTicks=[-15,-10,-5,0,5,10,15];
const seqB_tcn=[10,10,12,11,11.5,11,11,4,-2,-7,-2,9,10,11,12,12.5,13,12,2,-7,-7,-2,8,10];
const seqB_informer=[10,10,11,11.5,11.5,11,10.5,5,3,2,4,9,9.5,10.5,11.5,12,12,11,7,6,5.5,7,9,10];
const seqB_scinet=[10.5,10,11.5,11.5,11,11,12,-2,-11.5,-6,6,10,10,11,12.5,13,12.5,11,2,-12.5,-13,0,8,10];
const seqB_autoformer=[10,9,10,10.5,11,13,14,3,-8,-10,4,9,10,11,11.5,12,12,11,2,-6,-7.5,-5,7,9];
const seqB_truth=[10,9.5,11,11,11,11.5,12,1,-12,-8,7,10.5,10.5,11,12,13,13,12,3,-14,-14,-2,9,10];
const seqC_yTicks=[0.0,0.2,0.4,0.6,0.8];
const seqC_tcn=[0.72,0.65,0.62,0.70,0.72,0.67,0.65,0.70,0.68,0.70,0.75,0.62,0.60,0.58,0.62,0.60,0.55,0.52,0.50,0.56,0.62,0.65,0.75,0.65];
const seqC_informer=[0.50,0.60,0.56,0.58,0.52,0.40,0.35,0.65,0.45,0.70,0.65,0.62,0.58,0.50,0.45,0.48,0.50,0.45,0.40,0.32,-0.08,0.52,0.60,0.60];
const seqC_scinet=[0.57,0.58,0.55,0.50,0.53,0.57,0.55,0.51,0.47,0.45,0.48,0.50,0.52,0.50,0.53,0.48,0.50,0.52,0.47,0.47,0.46,0.45,0.47,0.60];
const seqC_autoformer=[0.55,0.45,0.43,0.42,0.42,0.38,0.37,0.38,0.35,0.32,0.32,0.38,0.48,0.50,0.50,0.42,0.38,0.38,0.40,0.38,0.40,0.45,0.50,0.57];
const seqC_truth=[0.49,0.55,0.55,0.54,0.55,0.64,0.58,0.48,0.44,0.43,0.50,0.50,0.50,0.49,0.50,0.50,0.48,0.50,0.46,0.46,0.45,0.45,0.46,0.55];
const seqD_yTicks=[0.3,0.4,0.5,0.6,0.7];
const seqD_tcn=[0.67,0.53,0.52,0.60,0.68,0.69,0.67,0.72,0.76,0.65,0.62,0.58,0.63,0.66,0.63,0.60,0.55,0.60,0.65,0.68,0.75,0.68,0.63,0.53];
const seqD_informer=[0.41,0.45,0.40,0.45,0.43,0.45,0.40,0.50,0.46,0.49,0.41,0.37,0.35,0.41,0.40,0.40,0.38,0.43,0.47,0.50,0.52,0.49,0.50,0.49];
const seqD_scinet=[0.58,0.48,0.52,0.45,0.47,0.42,0.43,0.48,0.51,0.45,0.47,0.53,0.48,0.45,0.42,0.40,0.43,0.40,0.40,0.52,0.56,0.59,0.59,0.62];
const seqD_autoformer=[0.52,0.46,0.44,0.45,0.40,0.34,0.32,0.35,0.33,0.40,0.46,0.46,0.40,0.43,0.37,0.38,0.36,0.34,0.35,0.40,0.47,0.48,0.45,0.48];
const seqD_truth=[0.55,0.67,0.60,0.52,0.45,0.43,0.42,0.45,0.52,0.50,0.48,0.52,0.52,0.52,0.48,0.40,0.46,0.46,0.46,0.40,0.45,0.52,0.48,0.49];

(function(){
  const root=document.getElementById('fig3');
  const colors=['#b48fd0','#3a6f95','#e8454a','#9ed8dc','#a3162d'];
  const charts=[
    {name:'chart-seq441',L:3139,R:3495,T:1373,B:1639,x0:3156,x40:3429,ya:[3.5,1381],yb:[1.75,1627],ticks:seqA_yTicks,fmt:v=>v.toFixed(2),series:[seqA_tcn,seqA_informer,seqA_scinet,seqA_autoformer,seqA_truth],cap:'(a)  Sequence 441,  Variate 3',capY:1690},
    {name:'chart-seq1388',L:3592,R:3945,T:1373,B:1639,x0:3608,x40:3881,ya:[15,1381],yb:[-15,1633],ticks:seqB_yTicks,fmt:v=>v<0?'−'+(-v):String(v),series:[seqB_tcn,seqB_informer,seqB_scinet,seqB_autoformer,seqB_truth],cap:'(b)  Sequence 1388,  Variate 1',capY:1690},
    {name:'chart-seq2745',L:3134,R:3495,T:1730,B:1995,x0:3151,x40:3429,ya:[0.8,1745],yb:[0,1960],ticks:seqC_yTicks,fmt:v=>v.toFixed(1),series:[seqC_tcn,seqC_informer,seqC_scinet,seqC_autoformer,seqC_truth],cap:'(c)  Sequence 2745,  Variate 4',capY:2047},
    {name:'chart-seq2753',L:3586,R:3945,T:1730,B:1995,x0:3608,x40:3881,ya:[0.7,1768],yb:[0.3,1951],ticks:seqD_yTicks,fmt:v=>v.toFixed(1),series:[seqD_tcn,seqD_informer,seqD_scinet,seqD_autoformer,seqD_truth],cap:'(d)  Sequence 2753,  Variate 5',capY:2047}
  ];
  charts.forEach(c=>{
    const g=mk('g',root,c.name,{});
    const sx=v=>c.x0+v*(c.x40-c.x0)/40;
    const sy=v=>c.ya[1]+(v-c.ya[0])*(c.yb[1]-c.ya[1])/(c.yb[0]-c.ya[0]);
    mk('rect',g,'plot-area',{x:c.L,y:c.T,width:c.R-c.L,height:c.B-c.T,fill:'#fff',stroke:'none'});
    fig3XTicks.forEach(v=>{
      mk('line',g,'x-gridline',{x1:sx(v),x2:sx(v),y1:c.T,y2:c.B,stroke:'#d9d9d9','stroke-width':1});
      tx(g,'x-tick-label',sx(v),c.B+15,String(v),12,{family:'"DejaVu Sans",sans-serif'});
    });
    c.ticks.forEach(v=>{
      mk('line',g,'y-gridline',{x1:c.L,x2:c.R,y1:sy(v),y2:sy(v),stroke:'#d9d9d9','stroke-width':1});
      tx(g,'y-tick-label',c.L-4,sy(v)+4,c.fmt(v),11,{anchor:'end',family:'"DejaVu Sans",sans-serif'});
    });
    c.series.forEach((vals,si)=>{
      const pts=vals.map((v,k)=>sx(fig3Steps[k])+','+sy(v)).join(' ');
      mk('polyline',g,'series-line-'+fig3Legend[si].toLowerCase().replace(' ','-'),{points:pts,fill:'none',stroke:colors[si],'stroke-width':si===4?2:1.5});
      vals.forEach((v,k)=>{
        const x=sx(fig3Steps[k]),y=sy(v);
        if(si===4){mk('circle',g,'truth-marker',{cx:x,cy:y,r:2.5,fill:colors[si]});}
        else{mk('path',g,'series-marker',{d:'M'+(x-3)+','+(y-2.5)+' L'+(x+3)+','+(y-2.5)+' L'+x+','+(y+3)+' z',fill:colors[si]});}
      });
    });
    mk('rect',g,'plot-frame',{x:c.L,y:c.T,width:c.R-c.L,height:c.B-c.T,fill:'none',stroke:'#444','stroke-width':1.5});
    const lg=mk('g',g,'legend',{});
    mk('rect',lg,'legend-box',{x:c.L+7,y:c.B-80,width:98,height:74,fill:'#fff','fill-opacity':0.85,stroke:'#ccc','stroke-width':1});
    fig3Legend.forEach((n,i)=>{
      const y=c.B-70+i*14;
      mk('line',lg,'legend-swatch',{x1:c.L+12,x2:c.L+32,y1:y,y2:y,stroke:colors[i],'stroke-width':1.5});
      tx(lg,'legend-label',c.L+37,y+4,n,10,{anchor:'start',family:'"DejaVu Sans",sans-serif'});
    });
    tx(g,'x-axis-title',(c.L+c.R)/2,c.B+28,'Future Time Steps',11,{family:'"DejaVu Sans",sans-serif'});
    tx(g,'y-axis-title',c.L-38,(c.T+c.B)/2,'Prediction Results',10,{family:'"DejaVu Sans",sans-serif',rotate:-90});
    tx(g,'subfigure-caption',(c.L+c.R)/2+6,c.capY,c.cap,23,{family:'"Liberation Serif",serif'});
  });
})();

/* ---------------- Figure 4: ablation box plots ---------------- */
const ablCats=['w/o ResCon','w/o Linear','w/o InterLearn','WeightShare','Complete'];
const ettTicks=[0.60,0.65,0.70,0.75,0.80];
const ettLow=[0.802,0.753,0.683,0.646,0.603];
const ettQ1=[0.812,0.756,0.684,0.649,0.611];
const ettMed=[0.819,0.773,0.693,0.660,0.621];
const ettQ3=[0.823,0.778,0.698,0.672,0.636];
const ettHigh=[0.830,0.792,0.706,0.685,0.637];
const pemsTicks=[16,17,18,19,20,21,22,23];
const pemsLow=[20.0,19.0,15.8,16.9,15.68];
const pemsQ1=[21.3,19.2,15.9,17.55,15.67];
const pemsMed=[22.3,19.4,15.97,17.8,15.70];
const pemsQ3=[23.0,20.15,16.05,18.0,15.72];
const pemsHigh=[23.2,21.05,16.2,18.2,15.72];
(function(){
  const root=document.getElementById('fig4');
  const fills=['#ffb6c1','#add8e6','#90ee90','#ff4500','#1f77b4'];
  const plots=[
    {name:'ablation-etth1',L:3105,R:3477,T:2268,B:2547,c0:3143,c4:3438,ya:[0.8,2316],yb:[0.6,2537],ticks:ettTicks,fmt:v=>v.toFixed(2),lo:ettLow,q1:ettQ1,md:ettMed,q3:ettQ3,hi:ettHigh,legX:3300,cap:'(a) ETTh1(H = 720)',yt:3066},
    {name:'ablation-pems08',L:3640,R:4010,T:2268,B:2547,c0:3678,c4:3973,ya:[23,2288],yb:[16,2523],ticks:pemsTicks,fmt:v=>String(v),lo:pemsLow,q1:pemsQ1,md:pemsMed,q3:pemsQ3,hi:pemsHigh,legX:3827,cap:'(b) PEMS08(H = 12)',yt:3600}
  ];
  plots.forEach(p=>{
    const g=mk('g',root,p.name,{});
    const cx=i=>p.c0+i*(p.c4-p.c0)/4;
    const sy=v=>p.ya[1]+(v-p.ya[0])*(p.yb[1]-p.ya[1])/(p.yb[0]-p.ya[0]);
    mk('rect',g,'plot-frame',{x:p.L,y:p.T,width:p.R-p.L,height:p.B-p.T,fill:'#fff',stroke:'#555','stroke-width':1.5});
    p.ticks.forEach(v=>{
      mk('line',g,'y-tick',{x1:p.L-5,x2:p.L,y1:sy(v),y2:sy(v),stroke:'#555','stroke-width':1});
      tx(g,'y-tick-label',p.L-8,sy(v)+5,p.fmt(v),14,{anchor:'end',family:'"DejaVu Sans",sans-serif'});
    });
    ablCats.forEach((n,i)=>{
      const x=cx(i), w=38;
      mk('line',g,'x-tick',{x1:x,x2:x,y1:p.B,y2:p.B+5,stroke:'#555','stroke-width':1});
      mk('line',g,'whisker',{x1:x,x2:x,y1:sy(p.lo[i]),y2:sy(p.hi[i]),stroke:'#333','stroke-width':1.5});
      mk('line',g,'whisker-cap',{x1:x-10,x2:x+10,y1:sy(p.lo[i]),y2:sy(p.lo[i]),stroke:'#333','stroke-width':1.5});
      mk('line',g,'whisker-cap',{x1:x-10,x2:x+10,y1:sy(p.hi[i]),y2:sy(p.hi[i]),stroke:'#333','stroke-width':1.5});
      const top=sy(p.q3[i]), bot=sy(p.q1[i]);
      mk('rect',g,'box-'+n.toLowerCase().replace(/[^a-z]+/g,'-'),{x:x-w/2,y:top,width:w,height:Math.max(bot-top,2),fill:fills[i],stroke:'#333','stroke-width':1.5});
      mk('line',g,'median-line',{x1:x-w/2,x2:x+w/2,y1:sy(p.md[i]),y2:sy(p.md[i]),stroke:'#ff9f40','stroke-width':1.5});
    });
    ablCats.forEach((n,i)=>{
      const y=p.T+21+i*24.5;
      mk('rect',g,'legend-swatch',{x:p.legX,y:y-5,width:40,height:10,fill:fills[i]});
      tx(g,'legend-label',p.legX+46,y+8,n,22,{anchor:'start',family:'"DejaVu Sans",sans-serif'});
    });
    tx(g,'y-axis-title',p.yt,(p.T+p.B)/2,'Mean Absolute Error',22,{family:'"DejaVu Sans",sans-serif',rotate:-90});
    tx(g,'subfigure-caption',(p.L+p.R)/2-8,2594,p.cap,29,{family:'"Liberation Serif",serif'});
  });
})();
</script>
</body></html>
